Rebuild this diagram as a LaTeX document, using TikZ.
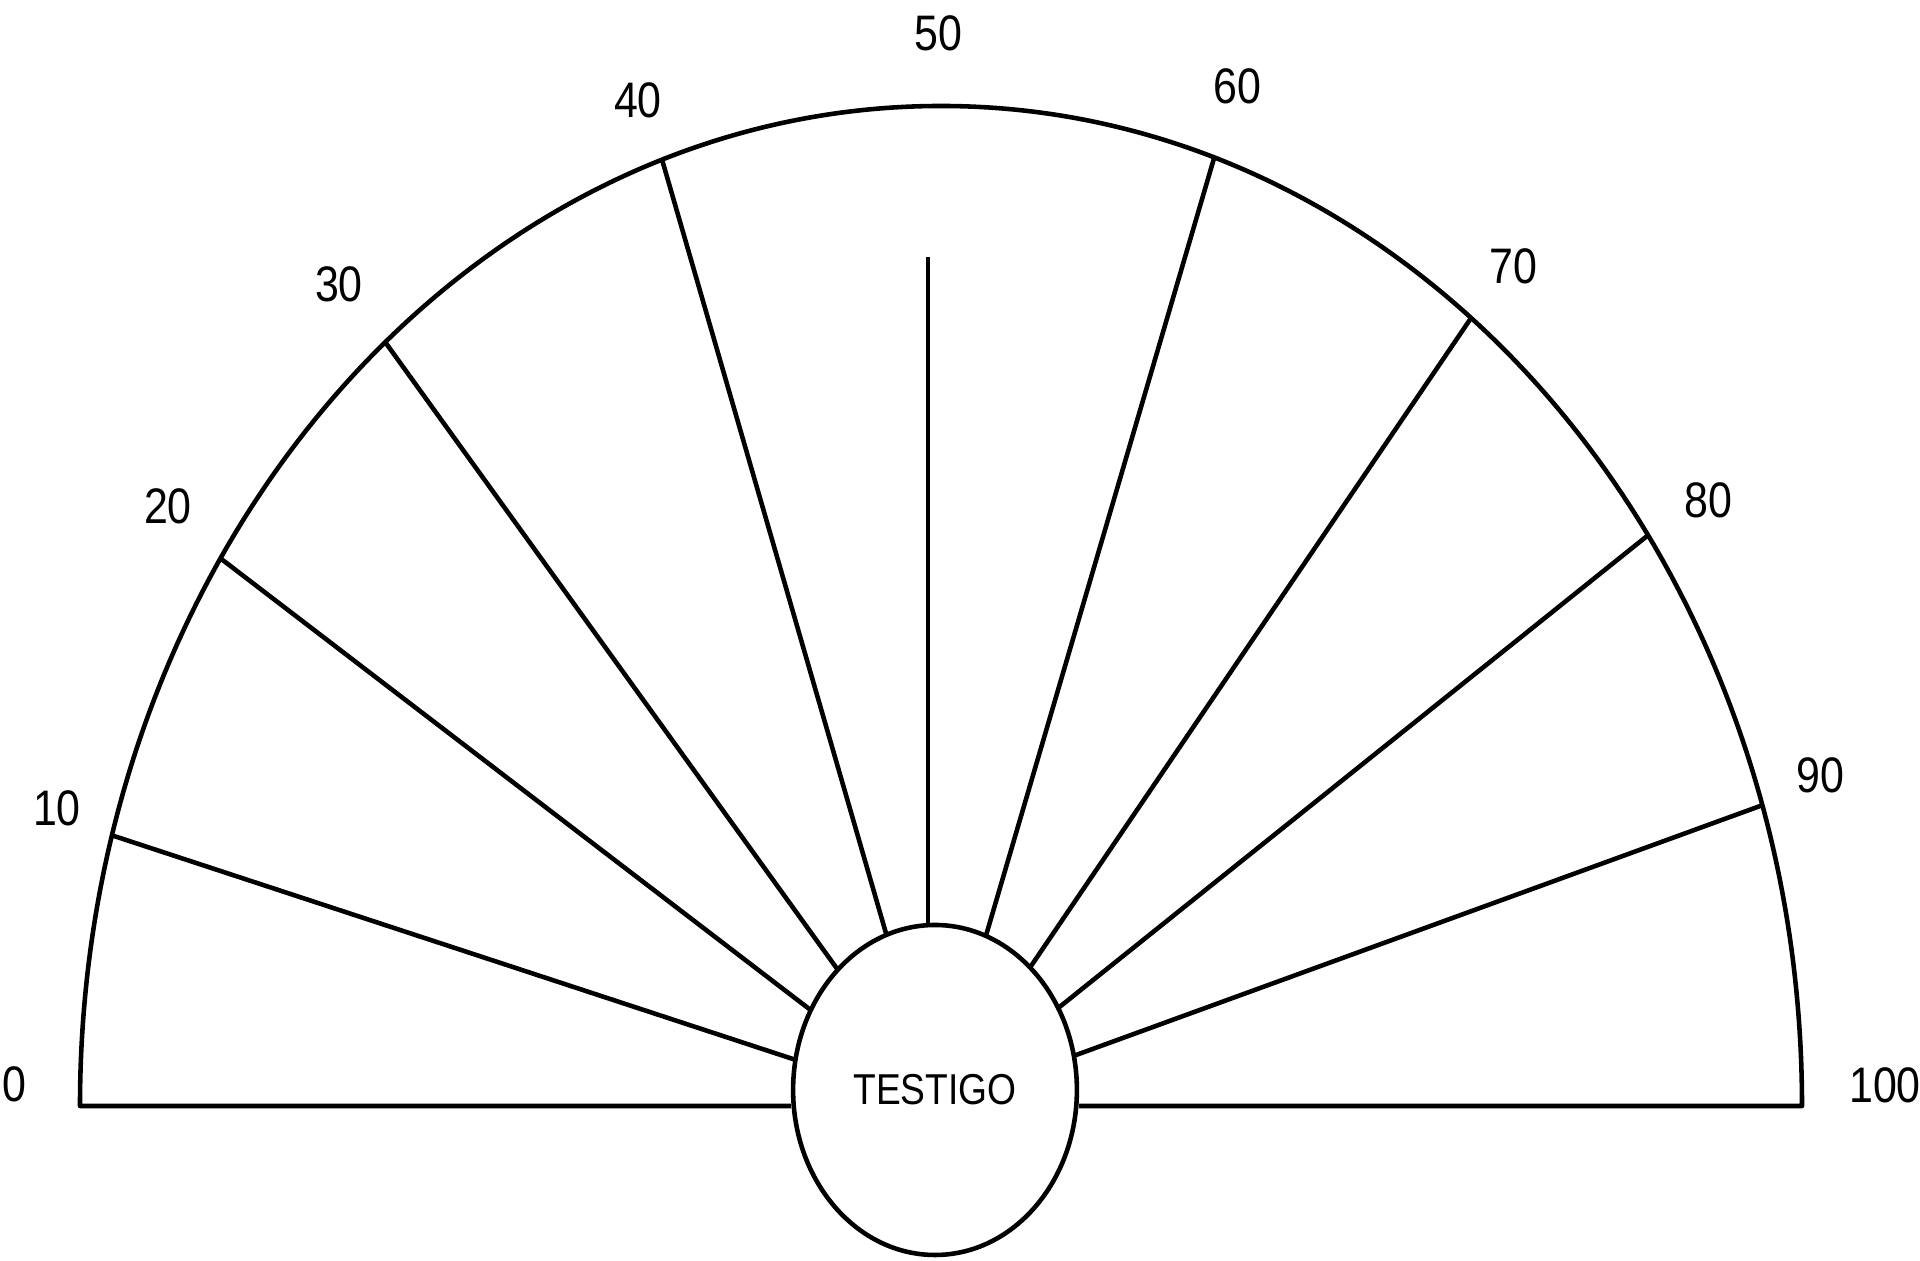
\documentclass[tikz,border=0pt]{standalone}
\usepackage{fontspec}
\setmainfont{Liberation Sans}
\usetikzlibrary{calc}

\tikzset{
  rim/.style={line width=1.3pt, line join=round},
  ray/.style={line width=1.3pt},
  grado/.style={inner sep=0pt, xscale=0.86, font=\fontsize{14.2}{17}\selectfont},
  testigobox/.style={circle, draw, line width=1.3pt, fill=white, minimum size=33mm,
    inner sep=0pt, xscale=0.86, font=\fontsize{12.3}{14}\selectfont}
}

\begin{document}
\begin{tikzpicture}[x=0.1mm, y=0.1mm]
    \useasboundingbox (0,0) rectangle (1920,1261);
    % Centro y extremos
    \coordinate (o) at (941,155);
    \coordinate (c) at (936,155);
    \coordinate (a0) at (80,155);
    \coordinate (a100) at (1802,155);
    % Radios
    \foreach \n/\t in {10/164.3, 20/146.8, 30/130.2, 40/108.9,
                       60/71.5, 70/52, 80/34.8, 90/17.5}{
        \path (o) ++({861*cos(\t)},{1000*sin(\t)}) coordinate (p\n);
        \draw[ray] (c) -- (p\n);
    }
    \node[testigobox] (testigo) at (935,171) {TESTIGO};
    % Semicírculo
    \draw[rim] (a0 -| testigo.west) -- (a0)
        arc[start angle=180, end angle=0, x radius=861, y radius=1000]
        -- (a100 -| testigo.east);
    \coordinate (p50) at (928,1004);
    \draw[ray] (p50) -- (p50 |- testigo.north);
    % Etiquetas
    \foreach \n/\x/\y in {0/14/177, 10/57/453, 20/168/755, 30/339/977,
                          40/638/1161, 50/938/1228, 60/1237/1175, 70/1513/995,
                          80/1708/761, 90/1820/486, 100/1885/176}
        \node[grado] (l\n) at (\x,\y) {\n};
\end{tikzpicture}
\end{document}
